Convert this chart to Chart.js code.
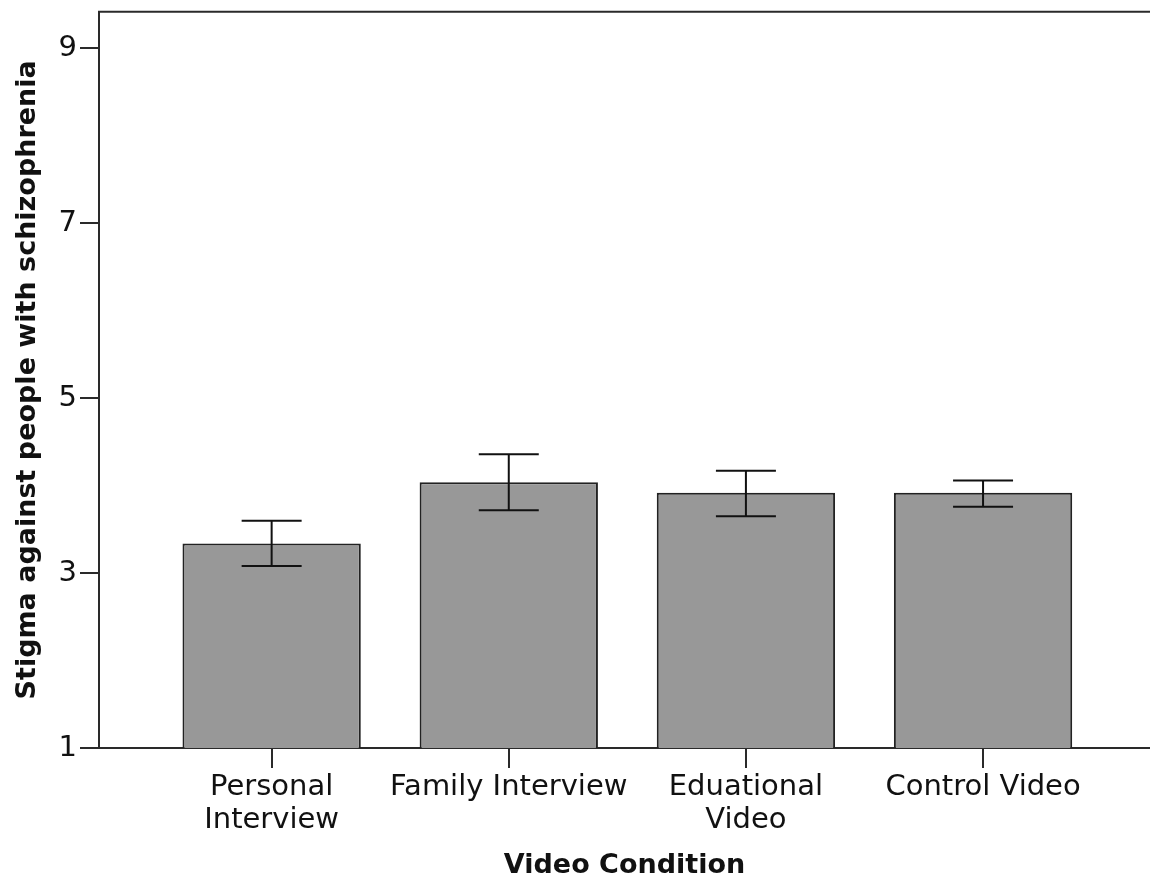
<!DOCTYPE html>
<html>
<head>
<meta charset="utf-8">
<script src="https://cdn.jsdelivr.net/npm/chart.js@4"></script>
<style>
  html, body { margin: 0; padding: 0; background: #fff; overflow: hidden; }
  #wrap { width: 1150px; height: 884px; position: relative; }
</style>
</head>
<body>
<div id="wrap"><canvas id="bars"></canvas></div>
<script>
const categories = [['Personal', 'Interview'], 'Family Interview', ['Eduational', 'Video'], 'Control Video'];
const means = [3.34, 4.04, 3.92, 3.92];
const errLow = [3.08, 3.72, 3.65, 3.76];
const errHigh = [3.60, 4.36, 4.17, 4.06];
const yTicks = [1, 3, 5, 7, 9];

const ink = '#2a2a2a';

// error bars + top frame line
const extras = {
  id: 'extras',
  afterDatasetsDraw(chart) {
    const {ctx, chartArea, scales: {x, y}} = chart;
    ctx.save();
    ctx.strokeStyle = '#111';
    ctx.lineWidth = 2;
    means.forEach((m, i) => {
      const px = x.getPixelForValue(i + 1);
      const lo = y.getPixelForValue(errLow[i]);
      const hi = y.getPixelForValue(errHigh[i]);
      ctx.beginPath();
      ctx.moveTo(px, lo); ctx.lineTo(px, hi);
      ctx.moveTo(px - 30, lo); ctx.lineTo(px + 30, lo);
      ctx.moveTo(px - 30, hi); ctx.lineTo(px + 30, hi);
      ctx.stroke();
    });
    ctx.strokeStyle = ink;
    ctx.beginPath();
    ctx.moveTo(chartArea.left - 1, chartArea.top);
    ctx.lineTo(chartArea.right, chartArea.top);
    ctx.stroke();
    ctx.restore();
  }
};

const ctx = document.getElementById('bars');
new Chart(ctx, {
  type: 'bar',
  data: {
    datasets: [{
      data: means.map((m, i) => ({x: i + 1, y: m})),
      backgroundColor: '#989898',
      borderColor: '#222',
      borderWidth: 2,
      categoryPercentage: 1,
      barPercentage: 0.752
    }]
  },
  options: {
    responsive: true,
    maintainAspectRatio: false,
    animation: false,
    layout: { padding: { top: 10, right: 0, bottom: 0, left: 0 } },
    plugins: { legend: { display: false }, tooltip: { enabled: false } },
    scales: {
      x: {
        type: 'linear',
        offset: false,
        min: 0.272,
        max: 4.704,
        afterBuildTicks: s => { s.ticks = categories.map((c, i) => ({value: i + 1})); },
        afterFit: s => { s.height = 136; },
        border: { color: ink, width: 2 },
        grid: { offset: false, drawOnChartArea: false, drawTicks: true, tickLength: 20, color: ink, lineWidth: 2 },
        ticks: {
          autoSkip: false,
          maxRotation: 0,
          padding: 3,
          color: '#111',
          font: { family: 'DejaVu Sans', size: 29, lineHeight: 1.14 },
          callback: v => categories[v - 1]
        },
        title: {
          display: true,
          text: 'Video Condition',
          color: '#111',
          padding: { top: 0, bottom: 2 },
          font: { family: 'DejaVu Sans', size: 27, weight: 'bold' }
        }
      },
      y: {
        min: 1,
        max: 9.42,
        afterBuildTicks: s => { s.ticks = yTicks.map(v => ({value: v})); },
        afterFit: s => { s.width = 99; },
        border: { color: ink, width: 2 },
        grid: { drawOnChartArea: false, drawTicks: true, tickLength: 19, color: ink, lineWidth: 2 },
        ticks: {
          padding: 3,
          color: '#111',
          font: { family: 'DejaVu Sans', size: 29, lineHeight: 0.6 }
        },
        title: {
          display: true,
          text: 'Stigma against people with schizophrenia',
          color: '#111',
          padding: { top: 12, bottom: 0 },
          font: { family: 'DejaVu Sans', size: 27, weight: 'bold' }
        }
      }
    }
  },
  plugins: [extras]
});
</script>
</body>
</html>
